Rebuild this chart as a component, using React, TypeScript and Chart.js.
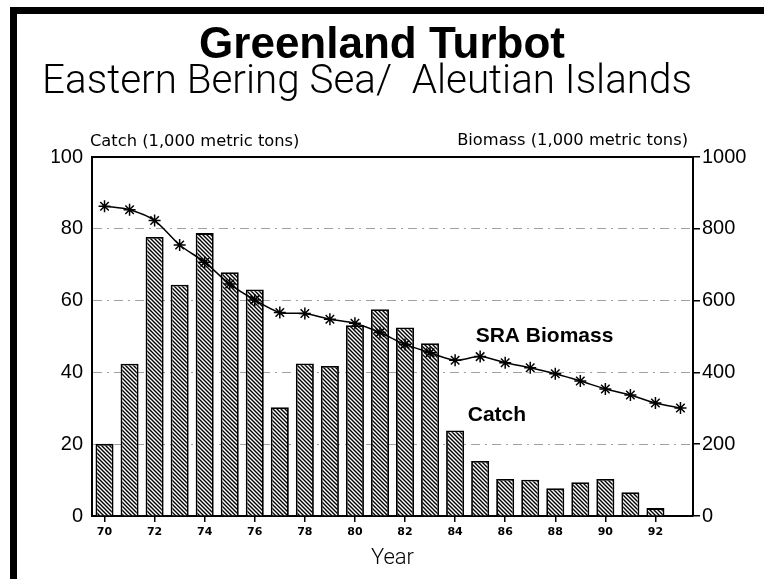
import React, { useEffect, useRef } from "react";
import { Chart, registerables } from "chart.js";

Chart.register(...registerables);

const years = ["70","71","72","73","74","75","76","77","78","79","80","81","82","83","84","85","86","87","88","89","90","91","92","93"];
const catchValues = [20.1, 42.4, 77.7, 64.4, 78.8, 67.9, 63.1, 30.3, 42.5, 41.8, 53.1, 57.6, 52.5, 48.1, 23.8, 15.3, 10.3, 10.1, 7.7, 9.4, 10.3, 6.6, 2.2, null];
const biomassValues = [863, 853, 823, 755, 707, 646, 602, 567, 564, 548, 537, 511, 478, 455, 434, 444, 427, 413, 396, 376, 354, 337, 315, 301];

const titleText = "Greenland Turbot";
const subtitleText = "Eastern Bering Sea/  Aleutian Islands";
const leftAxisLabel = "Catch (1,000 metric tons)";
const rightAxisLabel = "Biomass (1,000 metric tons)";
const xAxisLabel = "Year";
const biomassNote = "SRA Biomass";
const catchNote = "Catch";

function makeHatch(): CanvasPattern | string {
  const s = 4;
  const c = document.createElement("canvas");
  c.width = s;
  c.height = s;
  const g = c.getContext("2d");
  if (!g) return "#888";
  g.fillStyle = "#fff";
  g.fillRect(0, 0, s, s);
  g.strokeStyle = "#000";
  g.lineWidth = 1.4;
  g.beginPath();
  g.moveTo(-1, -1); g.lineTo(s + 1, s + 1);
  g.moveTo(-1, s - 1); g.lineTo(1, s + 1);
  g.moveTo(s - 1, -1); g.lineTo(s + 1, 1);
  g.stroke();
  const p = g.createPattern(c, "repeat");
  return p || "#888";
}

const decor = {
  id: "decor",
  afterDraw(chart: any) {
    const { ctx, chartArea, scales } = chart;
    ctx.save();
    // frame
    ctx.fillStyle = "#000";
    ctx.fillRect(10, 7, 754, 7);
    ctx.fillRect(10, 7, 7, 572);
    // top border of plot
    ctx.strokeStyle = "#000";
    ctx.lineWidth = 2;
    ctx.beginPath();
    ctx.moveTo(chartArea.left, chartArea.top);
    ctx.lineTo(chartArea.right, chartArea.top);
    ctx.stroke();
    // titles
    ctx.fillStyle = "#000";
    ctx.textAlign = "center";
    ctx.textBaseline = "alphabetic";
    ctx.font = "bold 44px 'Liberation Sans', Arial, sans-serif";
    ctx.fillText(titleText, 382, 58);
    ctx.font = "300 40.4px Roboto, 'Liberation Sans', sans-serif";
    ctx.fillText(subtitleText, 367, 93);
    // axis labels
    ctx.font = "16.3px 'DejaVu Sans', sans-serif";
    ctx.textBaseline = "middle";
    ctx.textAlign = "left";
    ctx.fillText(leftAxisLabel, chartArea.left - 2, 142);
    ctx.textAlign = "right";
    ctx.fillText(rightAxisLabel, chartArea.right - 5, 141);
    ctx.textAlign = "center";
    ctx.font = "300 22px Roboto, 'Liberation Sans', sans-serif";
    ctx.fillText(xAxisLabel, (chartArea.left + chartArea.right) / 2, 558);
    // annotations
    const x = scales.x;
    const y = scales.y;
    ctx.font = "bold 21px 'Liberation Sans', Arial, sans-serif";
    ctx.fillText(biomassNote, x.getPixelForValue(17.57), y.getPixelForValue(50));
    ctx.fillText(catchNote, x.getPixelForValue(15.67), y.getPixelForValue(28.1));
    ctx.restore();
  },
};

export default function App() {
  const ref = useRef<HTMLCanvasElement | null>(null);
  useEffect(() => {
    if (!ref.current) return;
    const hatch = makeHatch();
    const chart = new Chart(ref.current, {
      type: "bar",
      data: {
        labels: years,
        datasets: [
          {
            type: "line",
            label: "SRA Biomass",
            data: biomassValues,
            yAxisID: "y1",
            borderColor: "#000",
            borderWidth: 1.5,
            tension: 0.3,
            pointStyle: "star",
            pointRadius: 6,
            pointBorderColor: "#000",
            pointBorderWidth: 1.5,
            pointBackgroundColor: "#000",
            order: 0,
          } as any,
          {
            type: "bar",
            label: "Catch",
            data: catchValues,
            yAxisID: "y",
            backgroundColor: hatch as any,
            borderColor: "#000",
            borderWidth: 1.8,
            borderSkipped: "bottom",
            barPercentage: 0.72,
            categoryPercentage: 1,
            order: 1,
          } as any,
        ],
      },
      options: {
        responsive: false,
        animation: false,
        layout: { padding: { left: 52, right: 11, top: 157, bottom: 33 } },
        plugins: { legend: { display: false }, tooltip: { enabled: false }, title: { display: false } },
        scales: {
          x: {
            offset: true,
            afterFit: (s: any) => { s.height = 30; },
            grid: {
              offset: false,
              drawOnChartArea: false,
              drawTicks: true,
              tickLength: 6,
              color: (c: any) => (c.index % 2 === 0 ? "#000" : "rgba(0,0,0,0)"),
              lineWidth: 1.5,
            },
            border: { display: true, color: "#000", width: 2 },
            ticks: {
              autoSkip: false,
              maxRotation: 0,
              padding: 4,
              color: "#000",
              font: { family: "'DejaVu Sans', sans-serif", size: 11, weight: "bold" },
              callback: (_v: any, i: number) => (i % 2 === 0 ? years[i] : ""),
            },
          },
          y: {
            position: "left",
            min: 0,
            max: 100,
            afterFit: (s: any) => { s.width = 40; },
            ticks: {
              stepSize: 20,
              padding: 9,
              color: "#000",
              font: { family: "'Liberation Sans', Arial, sans-serif", size: 20 },
              callback: (v: any) => String(v),
            },
            grid: {
              drawTicks: false,
              color: (c: any) => (c.tick && (c.tick.value === 0 || c.tick.value === 100) ? "rgba(0,0,0,0)" : "#a0a0a0"),
              lineWidth: 1,
            },
            border: { display: true, color: "#000", width: 2, dash: [9, 5, 2, 5] },
          },
          y1: {
            position: "right",
            min: 0,
            max: 1000,
            afterFit: (s: any) => { s.width = 60; },
            ticks: {
              stepSize: 200,
              padding: 2,
              color: "#000",
              font: { family: "'Liberation Sans', Arial, sans-serif", size: 20 },
              callback: (v: any) => String(v),
            },
            grid: {
              drawOnChartArea: false,
              drawTicks: true,
              tickLength: 7,
              color: "#000",
              lineWidth: 1.5,
            },
            border: { display: true, color: "#000", width: 2 },
          },
        },
      },
      plugins: [decor],
    });
    return () => chart.destroy();
  }, []);
  return (
    <div style={{ position: "fixed", left: 0, top: 0, width: 764, height: 579, background: "#fff" }}>
      <canvas ref={ref} width={764} height={579} style={{ display: "block" }} />
    </div>
  );
}
